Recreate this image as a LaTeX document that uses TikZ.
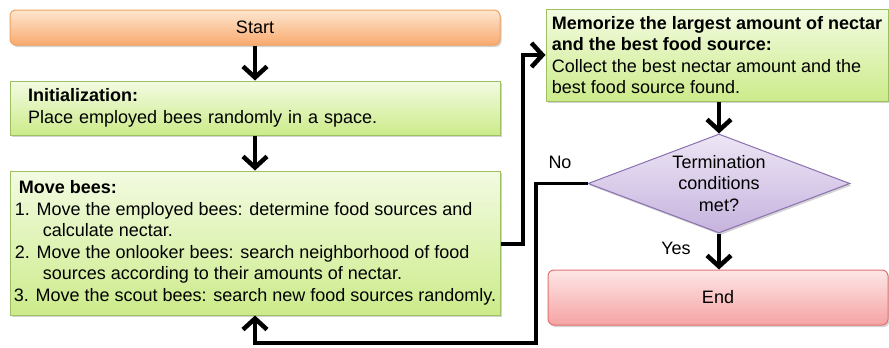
\documentclass[tikz,border=0pt]{standalone}
\usepackage{fontspec}
\setmainfont{Liberation Sans}
\usetikzlibrary{arrows.meta,shapes.geometric,shadows}
\definecolor{ortop}{HTML}{FDE6D0}
\definecolor{orbot}{HTML}{F9AA6E}
\definecolor{ordraw}{HTML}{F2A25E}
\definecolor{grtop}{HTML}{F3FBE2}
\definecolor{grbot}{HTML}{CCEB8A}
\definecolor{grdraw}{HTML}{9DC162}
\definecolor{pktop}{HTML}{FDE6E6}
\definecolor{pkbot}{HTML}{F6A3A3}
\definecolor{pkdraw}{HTML}{E27171}
\definecolor{putop}{HTML}{EDE6F5}
\definecolor{pubot}{HTML}{C6B3DE}
\definecolor{pudraw}{HTML}{8A70B0}
\newcommand{\ind}[1]{\rule{#1}{0pt}}
\tikzset{
  every node/.style={font=\fontsize{18}{21.5}\selectfont},
  shad/.style={drop shadow={opacity=0.35,shadow xshift=1.5pt,shadow yshift=-2pt}},
  orbox/.style={shad,rounded corners=6pt,draw=ordraw,line width=1pt,top color=ortop,bottom color=orbot,minimum width=490pt,minimum height=35pt,inner sep=0pt},
  pkbox/.style={shad,rounded corners=6pt,draw=pkdraw,line width=1pt,top color=pktop,bottom color=pkbot,minimum width=340pt,minimum height=55pt,inner sep=0pt},
  grbox/.style={shad,draw=grdraw,line width=1pt,top color=grtop,bottom color=grbot,align=left},
  dec/.style={shad,diamond,draw=pudraw,line width=1pt,top color=putop,bottom color=pubot,inner sep=0pt,aspect=2.65,minimum width=262pt,minimum height=99pt,align=center},
  arr/.style={line width=3.8pt,-{Straight Barb[length=11pt,width=24pt,line width=4.5pt]}},
}
\begin{document}
\begin{tikzpicture}[x=1pt,y=-1pt]
\useasboundingbox (0,0) rectangle (889,348);
\node[orbox] (start) at (255,27.5) {Start};
\node[grbox,minimum width=490pt,minimum height=54pt,inner xsep=18pt,text width=454pt] (init) at (255,108)
  {\textbf{Initialization:}\\Place employed bees randomly in a space.};
\node[grbox,minimum width=490pt,minimum height=144pt,inner xsep=0pt] (move) at (255,243)
  {\ind{5pt}\textbf{Move bees:}\\
   \ind{1pt}1. Move the employed bees: determine food sources and\\
   \ind{29pt}calculate nectar.\\
   \ind{1pt}2. Move the onlooker bees: search neighborhood of food\\
   \ind{29pt}sources according to their amounts of nectar.\\
   3. Move the scout bees: search new food sources randomly.};
\node[grbox,minimum width=342pt,minimum height=92pt,inner xsep=0pt] (mem) at (717,55)
  {\textbf{Memorize the largest amount of nectar}\\
   \textbf{and the best food source:}\\
   Collect the best nectar amount and the\\
   best food source found.};
\node[dec] (term) at (719,183.5) {Termination\\conditions\\met?};
\node[pkbox] (end) at (718,297.5) {End};
\node (no) at (560,162) {No};
\node (yes) at (676,248) {Yes};
\coordinate (c1) at (523,244);
\coordinate (c2) at (536,343);
\draw[arr] (start) -- (init);
\draw[arr] (init) -- (move);
\draw[arr] (move.east |- c1) -- (c1) |- (mem.west);
\draw[arr] (mem.south -| term.north) -- (term.north);
\draw[arr] (term.south) -- (term.south |- end.north);
\draw[arr] (term.west) -| (c2) -| (move.south);
\end{tikzpicture}
\end{document}
